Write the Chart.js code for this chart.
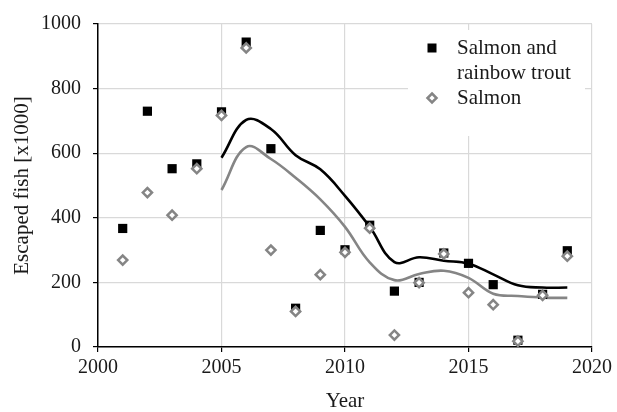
<!DOCTYPE html>
<html>
<head>
<meta charset="utf-8">
<script src="https://cdn.jsdelivr.net/npm/chart.js@4/dist/chart.umd.min.js"></script>
<style>
  html, body { margin: 0; padding: 0; background: #fff; }
  #wrap { width: 617px; height: 412px; position: relative; }
</style>
</head>
<body>
<div id="wrap"><canvas id="c" width="617" height="412"></canvas></div>
<script>
// Escaped fish per year, thousands
const years = [2001, 2002, 2003, 2004, 2005, 2006, 2007, 2008, 2009, 2010,
               2011, 2012, 2013, 2014, 2015, 2016, 2017, 2018, 2019];
const salmonTrout = [367, 730, 552, 567, 728, 944, 614, 120, 361, 301,
                     377, 173, 200, 291, 259, 193, 21, 163, 298];
const salmon = [269, 478, 408, 552, 717, 926, 300, 110, 224, 293,
                368, 37, 199, 288, 168, 131, 18, 160, 281];

// Smoothed five-year trend curves
const trendYears = [2005, 2006, 2007, 2008, 2009, 2010, 2011, 2012,
                    2013, 2014, 2015, 2016, 2017, 2018, 2019];
const salmonTroutTrend = [586, 703, 675, 594, 550, 468, 372, 263,
                          278, 267, 258, 225, 191, 184, 184];
const salmonTrend = [486, 619, 582, 524, 457, 372, 262, 207,
                     226, 236, 214, 165, 158, 153, 152];

const legendLabels = [["Salmon and", "rainbow trout"], ["Salmon"]];

const SERIF = "'Liberation Serif', 'Times New Roman', serif";
const TEXT = '#1a1a1a';
const GREY = '#858585';

const pts = (xs, ys) => xs.map((x, i) => ({ x: x, y: ys[i] }));

// Legend drawn inside the plot area, on a white box
const insideLegend = {
  id: 'insideLegend',
  afterDatasetsDraw(chart) {
    const ctx = chart.ctx;
    const area = chart.chartArea;
    const left = area.right - 184, top = area.top + 6;
    ctx.save();
    ctx.fillStyle = '#fff';
    ctx.fillRect(left, top, 177, 106);
    ctx.font = '21px ' + SERIF;
    ctx.textBaseline = 'middle';
    ctx.textAlign = 'left';
    const textX = left + 49, markX = left + 24;
    // first entry: black square, two lines of text
    let y = top + 18;
    ctx.fillStyle = '#000';
    ctx.fillRect(markX - 4.5, y - 4.5, 9, 9);
    ctx.fillStyle = TEXT;
    legendLabels[0].forEach((line, i) => ctx.fillText(line, textX, y + i * 25));
    // second entry: hollow grey diamond
    y = top + 68;
    ctx.beginPath();
    ctx.moveTo(markX, y - 4.5);
    ctx.lineTo(markX + 4.5, y);
    ctx.lineTo(markX, y + 4.5);
    ctx.lineTo(markX - 4.5, y);
    ctx.closePath();
    ctx.fillStyle = '#fff';
    ctx.fill();
    ctx.lineWidth = 2.5;
    ctx.strokeStyle = GREY;
    ctx.stroke();
    ctx.fillStyle = TEXT;
    ctx.fillText(legendLabels[1][0], textX, y);
    ctx.restore();
  }
};

new Chart(document.getElementById('c'), {
  type: 'scatter',
  data: {
    datasets: [
      {
        label: 'Salmon',
        data: pts(years, salmon),
        pointStyle: 'rectRot',
        pointRadius: 4.6,
        pointBorderWidth: 2.5,
        borderColor: GREY,
        backgroundColor: '#fff',
        showLine: false,
        order: 0
      },
      {
        label: 'Salmon and rainbow trout',
        data: pts(years, salmonTrout),
        pointStyle: 'rect',
        pointRadius: 6.5,
        pointBorderWidth: 0,
        borderColor: '#000',
        backgroundColor: '#000',
        showLine: false,
        order: 1
      },
      {
        label: 'Salmon and rainbow trout trend',
        data: pts(trendYears, salmonTroutTrend),
        showLine: true,
        borderColor: '#000',
        borderWidth: 2.6,
        pointRadius: 0,
        tension: 0.4,
        fill: false,
        order: 2
      },
      {
        label: 'Salmon trend',
        data: pts(trendYears, salmonTrend),
        showLine: true,
        borderColor: GREY,
        borderWidth: 2.6,
        pointRadius: 0,
        tension: 0.4,
        fill: false,
        order: 3
      }
    ]
  },
  options: {
    responsive: false,
    animation: false,
    layout: { padding: { top: 22, right: 25, left: 0, bottom: 0 } },
    plugins: {
      legend: { display: false },
      tooltip: { enabled: false }
    },
    scales: {
      x: {
        type: 'linear',
        min: 2000,
        max: 2020,
        afterFit: s => { s.height = 65; },
        ticks: {
          stepSize: 5,
          color: TEXT,
          padding: 4,
          font: { family: SERIF, size: 20 },
          callback: v => String(v)
        },
        grid: { color: '#d9d9d9', lineWidth: 1.2, tickColor: '#000', tickLength: 5 },
        border: { color: '#000', width: 1.5 },
        title: {
          display: true,
          text: 'Year',
          color: TEXT,
          font: { family: SERIF, size: 21, lineHeight: 1.0 },
          padding: { top: 0, bottom: 0 }
        }
      },
      y: {
        min: 0,
        max: 1000,
        afterFit: s => { s.width = 98; },
        ticks: {
          stepSize: 200,
          color: TEXT,
          padding: 12,
          font: { family: SERIF, size: 20 },
          callback: v => String(v)
        },
        grid: { color: '#d9d9d9', lineWidth: 1.2, tickColor: '#000', tickLength: 5 },
        border: { color: '#000', width: 1.5 },
        title: {
          display: true,
          text: 'Escaped fish [x1000]',
          color: TEXT,
          font: { family: SERIF, size: 21, lineHeight: 1.2 },
          padding: { top: 10, bottom: 0 }
        }
      }
    }
  },
  plugins: [insideLegend]
});
</script>
</body>
</html>
